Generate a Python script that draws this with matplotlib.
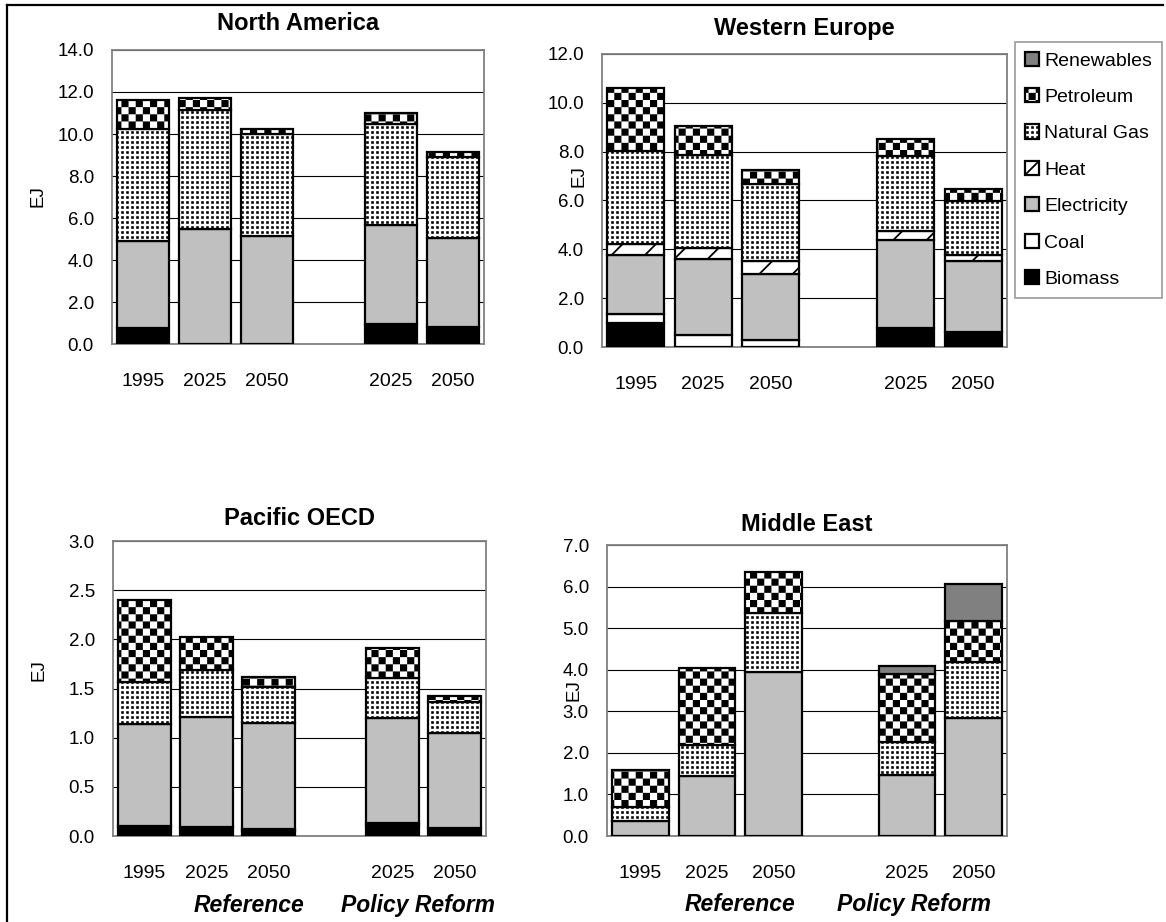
import warnings
import numpy as np
import matplotlib
matplotlib.use('Agg')
import matplotlib.pyplot as plt
from matplotlib import hatch as mhatch
from matplotlib import font_manager
from matplotlib.path import Path
from matplotlib.patches import Patch
from matplotlib.lines import Line2D

# custom hatch letters ('c', 'd') are outside the built-in set
warnings.filterwarnings('ignore', category=matplotlib.MatplotlibDeprecationWarning)

# ---------------- data (EJ) ----------------
years = ['1995', '2025', '2050', '2025', '2050']
fuels = ['Biomass', 'Coal', 'Electricity', 'Heat', 'Natural Gas', 'Petroleum', 'Renewables']

na_biomass = [0.75, 0.0, 0.0, 0.97, 0.82]
na_coal = [0.0, 0.0, 0.0, 0.0, 0.0]
na_elec = [4.17, 5.48, 5.16, 4.70, 4.23]
na_heat = [0.0, 0.0, 0.0, 0.0, 0.0]
na_gas = [5.31, 5.65, 4.84, 4.82, 3.87]
na_petrol = [1.37, 0.57, 0.24, 0.53, 0.20]
na_renew = [0.0, 0.0, 0.0, 0.0, 0.0]

we_biomass = [0.98, 0.0, 0.0, 0.79, 0.60]
we_coal = [0.39, 0.51, 0.27, 0.0, 0.0]
we_elec = [2.41, 3.11, 2.73, 3.61, 2.92]
we_heat = [0.43, 0.45, 0.52, 0.35, 0.26]
we_gas = [3.81, 3.81, 3.15, 3.06, 2.20]
we_petrol = [2.59, 1.16, 0.57, 0.70, 0.48]
we_renew = [0.0, 0.0, 0.0, 0.0, 0.0]

po_biomass = [0.105, 0.088, 0.05, 0.108, 0.078]
po_coal = [0.0, 0.0, 0.02, 0.02, 0.0]
po_elec = [1.03, 1.12, 1.075, 1.077, 0.97]
po_heat = [0.0, 0.0, 0.0, 0.0, 0.0]
po_gas = [0.43, 0.48, 0.375, 0.405, 0.31]
po_petrol = [0.84, 0.34, 0.10, 0.30, 0.07]
po_renew = [0.0, 0.0, 0.0, 0.0, 0.0]

me_biomass = [0.0, 0.0, 0.0, 0.0, 0.0]
me_coal = [0.0, 0.0, 0.0, 0.0, 0.0]
me_elec = [0.36, 1.44, 3.95, 1.47, 2.83]
me_heat = [0.0, 0.0, 0.0, 0.0, 0.0]
me_gas = [0.33, 0.76, 1.41, 0.80, 1.36]
me_petrol = [0.90, 1.85, 1.00, 1.63, 0.97]
me_renew = [0.0, 0.0, 0.0, 0.20, 0.89]

# ---------------- hatches ----------------
HATCH_LW = 1.3
plt.rcParams['hatch.linewidth'] = HATCH_LW
half_stroke = HATCH_LW * 100 / 72 / 2 / 100   # in hatch-tile units (tile = 1 inch)


class SquareHatch(mhatch.HatchPatternBase):
    char = '?'

    def __init__(self, hatch, density):
        self.squares = self.make_squares() if self.char in hatch else []
        self.num_vertices = len(self.squares) * 5

    def set_vertices_and_codes(self, vertices, codes):
        k = 0
        for x0, y0, x1, y1 in self.squares:
            vertices[k:k + 5] = [[x0, y0], [x1, y0], [x1, y1], [x0, y1], [x0, y0]]
            codes[k:k + 5] = [Path.MOVETO, Path.LINETO, Path.LINETO,
                              Path.LINETO, Path.CLOSEPOLY]
            k += 5


class CheckerHatch(SquareHatch):
    char = 'c'

    def make_squares(self):
        n = 14
        d = half_stroke
        return [(i / n + d, j / n + d, (i + 1) / n - d, (j + 1) / n - d)
                for i in range(n) for j in range(n) if (i + j) % 2 == 0]


class DotHatch(SquareHatch):
    char = 'd'

    def make_squares(self):
        n = 20
        s = 0.004
        return [((i + 0.5) / n - s, (j + 0.5) / n - s, (i + 0.5) / n + s, (j + 0.5) / n + s)
                for i in range(n) for j in range(n)]


mhatch._hatch_types.append(CheckerHatch)
mhatch._hatch_types.append(DotHatch)

# ---------------- fonts ----------------
names = {f.name for f in font_manager.fontManager.ttflist}
FONT = 'Liberation Sans Narrow' if 'Liberation Sans Narrow' in names else 'Liberation Sans'
plt.rcParams['font.family'] = [FONT, 'DejaVu Sans']

styles = {
    'Biomass': dict(facecolor='black', hatch=None),
    'Coal': dict(facecolor='white', hatch=None),
    'Electricity': dict(facecolor='#c0c0c0', hatch=None),
    'Heat': dict(facecolor='white', hatch='/'),
    'Natural Gas': dict(facecolor='white', hatch='d'),
    'Petroleum': dict(facecolor='white', hatch='c'),
    'Renewables': dict(facecolor='#808080', hatch=None),
}

W, H = 1166, 922
fig = plt.figure(figsize=(W / 100, H / 100), dpi=100)


def add_axes(left, right, top, bottom):
    return fig.add_axes([left / W, 1 - bottom / H, (right - left) / W, (bottom - top) / H])


x = np.array([0, 1, 2, 4, 5])


def panel(ax, title, series, ymax, step, title_pad, label_xy):
    bottom = np.zeros(len(x))
    for fuel, vals in zip(fuels, series):
        vals = np.array(vals, dtype=float)
        m = vals > 0
        st = styles[fuel]
        ax.bar(x[m], vals[m], bottom=bottom[m], width=0.85, facecolor=st['facecolor'],
               edgecolor='black', linewidth=1.6, hatch=st['hatch'], zorder=3)
        bottom += vals
    ticks = np.arange(0, ymax + step / 2, step)
    ax.set_xlim(-0.5, 5.5)
    ax.set_ylim(0, ymax)
    ax.set_yticks(ticks)
    ax.set_yticklabels(['%.1f' % v for v in ticks], fontsize=13.5)
    ax.set_xticks(x)
    ax.set_xticklabels(years, fontsize=14)
    ax.tick_params(axis='both', length=0)
    ax.tick_params(axis='x', pad=21)
    ax.tick_params(axis='y', pad=13)
    ax.yaxis.grid(True, color='black', linewidth=0.8)
    ax.set_axisbelow(True)
    for sp in ax.spines.values():
        sp.set_color('#808080')
        sp.set_linewidth(1.3)
    ax.set_ylabel('EJ', fontsize=13.5)
    ax.yaxis.set_label_coords(*label_xy)
    ax.set_title(title, fontsize=17, fontweight='bold', pad=title_pad)


ax1 = add_axes(112, 484, 50, 344)
panel(ax1, 'North America',
      [na_biomass, na_coal, na_elec, na_heat, na_gas, na_petrol, na_renew], 14, 2, 14.5,
      (-0.176, 0.503))
ax2 = add_axes(602, 1007, 54, 347)
panel(ax2, 'Western Europe',
      [we_biomass, we_coal, we_elec, we_heat, we_gas, we_petrol, we_renew], 12, 2, 13.8,
      (-0.037, 0.582))
ax3 = add_axes(113, 486, 541, 836)
panel(ax3, 'Pacific OECD',
      [po_biomass, po_coal, po_elec, po_heat, po_gas, po_petrol, po_renew], 3, 0.5, 11.6,
      (-0.176, 0.563))
ax4 = add_axes(607, 1007, 545, 836)
panel(ax4, 'Middle East',
      [me_biomass, me_coal, me_elec, me_heat, me_gas, me_petrol, me_renew], 7, 1, 10,
      (-0.06, 0.5))

# scenario names under the bottom row
for ax, xr, xp in [(ax3, 1.68, 4.4), (ax4, 1.49, 4.1)]:
    for xx, txt in [(xr, 'Reference'), (xp, 'Policy Reform')]:
        ax.text(xx, -0.237, txt, transform=ax.get_xaxis_transform(), ha='center', va='center',
                fontsize=16.5, fontweight='bold', fontstyle='italic')

# legend
handles = [Patch(facecolor=styles[f]['facecolor'], edgecolor='black', linewidth=1.6,
                 hatch=styles[f]['hatch'], label=f) for f in fuels[::-1]]
leg = fig.legend(handles=handles, loc='upper left', bbox_to_anchor=(1015 / W, 1 - 42 / H),
                 frameon=True, fancybox=False, edgecolor='#808080', fontsize=14,
                 handlelength=0.75, handleheight=0.75, handletextpad=0.25,
                 labelspacing=0.95, borderaxespad=0, borderpad=0.5)
leg.get_frame().set_linewidth(1.2)

# page frame (top and left edges)
fig.add_artist(Line2D([7 / W, 1163 / W], [1 - 5 / H, 1 - 5 / H], transform=fig.transFigure,
                      color='black', linewidth=1.6))
fig.add_artist(Line2D([7 / W, 7 / W], [1 - 5 / H, 0], transform=fig.transFigure,
                      color='black', linewidth=1.6))

fig.savefig('out.png', dpi=100)
